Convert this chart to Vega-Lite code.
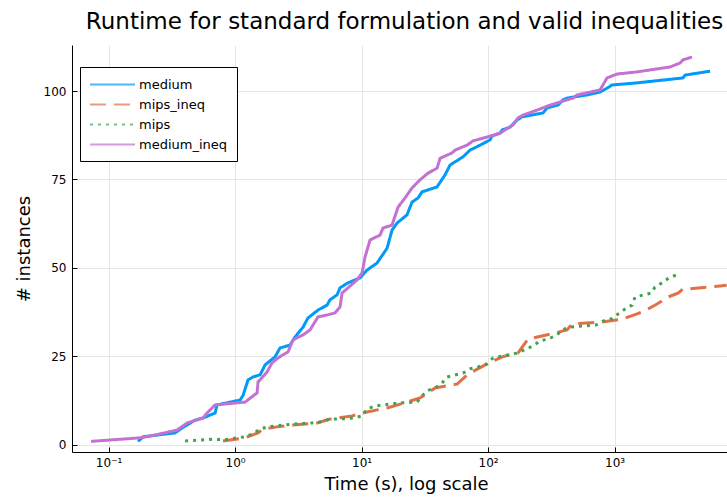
{
  "$schema": "https://vega.github.io/schema/vega-lite/v6.json",
  "width": 655,
  "height": 407,
  "autosize": "none",
  "padding": {"left": 72, "top": 45, "right": 0, "bottom": 47},
  "background": "white",
  "title": {"text": "Runtime for standard formulation and valid inequalities", "fontSize": 23, "fontWeight": "normal", "anchor": "middle", "offset": 11, "dx": 5, "color": "black"},
  "datasets": {
    "runs": [
      {"s": "medium", "t": 0.171, "n": 1},
      {"s": "medium", "t": 0.188, "n": 2.3},
      {"s": "medium", "t": 0.336, "n": 3.4},
      {"s": "medium", "t": 0.381, "n": 4.8},
      {"s": "medium", "t": 0.483, "n": 7},
      {"s": "medium", "t": 0.558, "n": 7.6},
      {"s": "medium", "t": 0.695, "n": 9},
      {"s": "medium", "t": 0.721, "n": 11.3},
      {"s": "medium", "t": 1.096, "n": 12.7},
      {"s": "medium", "t": 1.157, "n": 14},
      {"s": "medium", "t": 1.267, "n": 18.4},
      {"s": "medium", "t": 1.387, "n": 19.2},
      {"s": "medium", "t": 1.577, "n": 19.8},
      {"s": "medium", "t": 1.727, "n": 22.6},
      {"s": "medium", "t": 2.07, "n": 24.9},
      {"s": "medium", "t": 2.268, "n": 27.4},
      {"s": "medium", "t": 2.721, "n": 28.2},
      {"s": "medium", "t": 2.98, "n": 30.5},
      {"s": "medium", "t": 3.451, "n": 33.3},
      {"s": "medium", "t": 3.776, "n": 35.9},
      {"s": "medium", "t": 4.529, "n": 38.1},
      {"s": "medium", "t": 5.337, "n": 39.5},
      {"s": "medium", "t": 5.636, "n": 41},
      {"s": "medium", "t": 6.404, "n": 42.4},
      {"s": "medium", "t": 6.761, "n": 44.4},
      {"s": "medium", "t": 7.822, "n": 45.8},
      {"s": "medium", "t": 9.728, "n": 47.2},
      {"s": "medium", "t": 11.05, "n": 49.4},
      {"s": "medium", "t": 13.27, "n": 51.4},
      {"s": "medium", "t": 15.92, "n": 55.6},
      {"s": "medium", "t": 17.42, "n": 60.7},
      {"s": "medium", "t": 19.09, "n": 62.7},
      {"s": "medium", "t": 22.88, "n": 65},
      {"s": "medium", "t": 25.06, "n": 68.6},
      {"s": "medium", "t": 27.99, "n": 69.8},
      {"s": "medium", "t": 30.06, "n": 71.5},
      {"s": "medium", "t": 39.54, "n": 72.9},
      {"s": "medium", "t": 45.71, "n": 76.3},
      {"s": "medium", "t": 50.12, "n": 79.1},
      {"s": "medium", "t": 63.44, "n": 81.4},
      {"s": "medium", "t": 72.06, "n": 83.3},
      {"s": "medium", "t": 86.5, "n": 84.7},
      {"s": "medium", "t": 103.7, "n": 86.2},
      {"s": "medium", "t": 107.6, "n": 87.3},
      {"s": "medium", "t": 124.5, "n": 88.1},
      {"s": "medium", "t": 129.2, "n": 89},
      {"s": "medium", "t": 149.3, "n": 89.8},
      {"s": "medium", "t": 169.4, "n": 91.8},
      {"s": "medium", "t": 185.6, "n": 92.7},
      {"s": "medium", "t": 272.2, "n": 93.8},
      {"s": "medium", "t": 292.6, "n": 95.2},
      {"s": "medium", "t": 357.3, "n": 96},
      {"s": "medium", "t": 391.7, "n": 97.5},
      {"s": "medium", "t": 421.3, "n": 98},
      {"s": "medium", "t": 606.7, "n": 98.9},
      {"s": "medium", "t": 767.9, "n": 99.7},
      {"s": "medium", "t": 872.9, "n": 100.8},
      {"s": "medium", "t": 955, "n": 101.7},
      {"s": "medium", "t": 1507, "n": 102.3},
      {"s": "medium", "t": 3481, "n": 103.7},
      {"s": "medium", "t": 3609, "n": 104.5},
      {"s": "medium", "t": 5690, "n": 105.6},

      {"s": "mips_ineq", "t": 0.803, "n": 1.1},
      {"s": "mips_ineq", "t": 1.199, "n": 2},
      {"s": "mips_ineq", "t": 1.52, "n": 3.4},
      {"s": "mips_ineq", "t": 1.665, "n": 4.5},
      {"s": "mips_ineq", "t": 2.147, "n": 5.1},
      {"s": "mips_ineq", "t": 2.873, "n": 5.6},
      {"s": "mips_ineq", "t": 4.446, "n": 6.2},
      {"s": "mips_ineq", "t": 5.636, "n": 7.3},
      {"s": "mips_ineq", "t": 8.414, "n": 8.2},
      {"s": "mips_ineq", "t": 11.05, "n": 9.3},
      {"s": "mips_ineq", "t": 16.18, "n": 10.5},
      {"s": "mips_ineq", "t": 22.88, "n": 12.1},
      {"s": "mips_ineq", "t": 28.99, "n": 13.3},
      {"s": "mips_ineq", "t": 30.62, "n": 13.8},
      {"s": "mips_ineq", "t": 38.11, "n": 16.1},
      {"s": "mips_ineq", "t": 56.89, "n": 17.2},
      {"s": "mips_ineq", "t": 69.45, "n": 20},
      {"s": "mips_ineq", "t": 98.23, "n": 22.9},
      {"s": "mips_ineq", "t": 129.2, "n": 24.9},
      {"s": "mips_ineq", "t": 172.6, "n": 26},
      {"s": "mips_ineq", "t": 207.1, "n": 29.9},
      {"s": "mips_ineq", "t": 320.5, "n": 31.4},
      {"s": "mips_ineq", "t": 421.3, "n": 32.5},
      {"s": "mips_ineq", "t": 461.4, "n": 34.2},
      {"s": "mips_ineq", "t": 796.7, "n": 34.7},
      {"s": "mips_ineq", "t": 1167, "n": 35.6},
      {"s": "mips_ineq", "t": 1507, "n": 37},
      {"s": "mips_ineq", "t": 1839, "n": 38.4},
      {"s": "mips_ineq", "t": 2168, "n": 39.8},
      {"s": "mips_ineq", "t": 2648, "n": 41.8},
      {"s": "mips_ineq", "t": 3177, "n": 42.9},
      {"s": "mips_ineq", "t": 3481, "n": 44.1},
      {"s": "mips_ineq", "t": 3811, "n": 44.1},
      {"s": "mips_ineq", "t": 6825, "n": 44.9},
      {"s": "mips_ineq", "t": 7700, "n": 45.1},

      {"s": "mips", "t": 0.403, "n": 1.1},
      {"s": "mips", "t": 0.658, "n": 1.6},
      {"s": "mips", "t": 0.834, "n": 1.5},
      {"s": "mips", "t": 1.199, "n": 2.3},
      {"s": "mips", "t": 1.387, "n": 3.1},
      {"s": "mips", "t": 1.577, "n": 4.5},
      {"s": "mips", "t": 1.824, "n": 5.1},
      {"s": "mips", "t": 2.147, "n": 5.4},
      {"s": "mips", "t": 2.873, "n": 5.9},
      {"s": "mips", "t": 4.061, "n": 6.2},
      {"s": "mips", "t": 4.698, "n": 6.5},
      {"s": "mips", "t": 5.636, "n": 7.3},
      {"s": "mips", "t": 7.406, "n": 7.4},
      {"s": "mips", "t": 8.573, "n": 7.6},
      {"s": "mips", "t": 10.09, "n": 8.2},
      {"s": "mips", "t": 11.05, "n": 10.2},
      {"s": "mips", "t": 12.79, "n": 11},
      {"s": "mips", "t": 17.42, "n": 11.6},
      {"s": "mips", "t": 20.16, "n": 11.9},
      {"s": "mips", "t": 27.47, "n": 12.1},
      {"s": "mips", "t": 30.06, "n": 13.8},
      {"s": "mips", "t": 32.96, "n": 15.3},
      {"s": "mips", "t": 38.11, "n": 16.1},
      {"s": "mips", "t": 43.27, "n": 17.5},
      {"s": "mips", "t": 47.42, "n": 19.2},
      {"s": "mips", "t": 63.44, "n": 20.3},
      {"s": "mips", "t": 72.06, "n": 21.5},
      {"s": "mips", "t": 83.37, "n": 22},
      {"s": "mips", "t": 98.23, "n": 22.9},
      {"s": "mips", "t": 109.6, "n": 24.6},
      {"s": "mips", "t": 129.2, "n": 25.1},
      {"s": "mips", "t": 172.6, "n": 26},
      {"s": "mips", "t": 199.5, "n": 27.1},
      {"s": "mips", "t": 226.9, "n": 28},
      {"s": "mips", "t": 257.6, "n": 29.4},
      {"s": "mips", "t": 298.1, "n": 29.9},
      {"s": "mips", "t": 350.8, "n": 31.1},
      {"s": "mips", "t": 384.4, "n": 32.5},
      {"s": "mips", "t": 444.9, "n": 33.3},
      {"s": "mips", "t": 714.5, "n": 33.9},
      {"s": "mips", "t": 811, "n": 35},
      {"s": "mips", "t": 938, "n": 35.6},
      {"s": "mips", "t": 1066, "n": 37},
      {"s": "mips", "t": 1211, "n": 38.4},
      {"s": "mips", "t": 1375, "n": 39.5},
      {"s": "mips", "t": 1453, "n": 41.8},
      {"s": "mips", "t": 1944, "n": 42.9},
      {"s": "mips", "t": 2089, "n": 44.6},
      {"s": "mips", "t": 2373, "n": 45.8},
      {"s": "mips", "t": 2698, "n": 47.2},
      {"s": "mips", "t": 3063, "n": 48},

      {"s": "medium_ineq", "t": 0.0728, "n": 1},
      {"s": "medium_ineq", "t": 0.177, "n": 2},
      {"s": "medium_ineq", "t": 0.233, "n": 2.8},
      {"s": "medium_ineq", "t": 0.348, "n": 4.2},
      {"s": "medium_ineq", "t": 0.418, "n": 6.2},
      {"s": "medium_ineq", "t": 0.558, "n": 7.6},
      {"s": "medium_ineq", "t": 0.601, "n": 9},
      {"s": "medium_ineq", "t": 0.695, "n": 11.3},
      {"s": "medium_ineq", "t": 1.199, "n": 12.1},
      {"s": "medium_ineq", "t": 1.493, "n": 14.7},
      {"s": "medium_ineq", "t": 1.52, "n": 17.8},
      {"s": "medium_ineq", "t": 1.791, "n": 20.6},
      {"s": "medium_ineq", "t": 1.96, "n": 23.2},
      {"s": "medium_ineq", "t": 2.188, "n": 24.6},
      {"s": "medium_ineq", "t": 2.624, "n": 26.3},
      {"s": "medium_ineq", "t": 2.873, "n": 29.7},
      {"s": "medium_ineq", "t": 3.451, "n": 31.1},
      {"s": "medium_ineq", "t": 3.917, "n": 32.5},
      {"s": "medium_ineq", "t": 4.529, "n": 36.2},
      {"s": "medium_ineq", "t": 5.337, "n": 36.7},
      {"s": "medium_ineq", "t": 6.175, "n": 37.3},
      {"s": "medium_ineq", "t": 6.761, "n": 39},
      {"s": "medium_ineq", "t": 7.012, "n": 42.9},
      {"s": "medium_ineq", "t": 7.822, "n": 44.4},
      {"s": "medium_ineq", "t": 9.208, "n": 46.6},
      {"s": "medium_ineq", "t": 10.09, "n": 48.6},
      {"s": "medium_ineq", "t": 10.66, "n": 53.1},
      {"s": "medium_ineq", "t": 11.67, "n": 57.9},
      {"s": "medium_ineq", "t": 14.0, "n": 59.3},
      {"s": "medium_ineq", "t": 14.79, "n": 61.3},
      {"s": "medium_ineq", "t": 17.42, "n": 62.1},
      {"s": "medium_ineq", "t": 19.44, "n": 67.2},
      {"s": "medium_ineq", "t": 22.08, "n": 69.8},
      {"s": "medium_ineq", "t": 25.06, "n": 72.6},
      {"s": "medium_ineq", "t": 28.99, "n": 74.9},
      {"s": "medium_ineq", "t": 33.57, "n": 76.8},
      {"s": "medium_ineq", "t": 39.54, "n": 78.2},
      {"s": "medium_ineq", "t": 41.78, "n": 81},
      {"s": "medium_ineq", "t": 51.88, "n": 82.5},
      {"s": "medium_ineq", "t": 54.83, "n": 83.3},
      {"s": "medium_ineq", "t": 68.19, "n": 84.7},
      {"s": "medium_ineq", "t": 76.07, "n": 85.9},
      {"s": "medium_ineq", "t": 98.23, "n": 87},
      {"s": "medium_ineq", "t": 124.5, "n": 88.1},
      {"s": "medium_ineq", "t": 136.3, "n": 89},
      {"s": "medium_ineq", "t": 157.8, "n": 90.4},
      {"s": "medium_ineq", "t": 172.6, "n": 92.4},
      {"s": "medium_ineq", "t": 189.1, "n": 93.2},
      {"s": "medium_ineq", "t": 243.8, "n": 94.6},
      {"s": "medium_ineq", "t": 309, "n": 96},
      {"s": "medium_ineq", "t": 421.3, "n": 97.5},
      {"s": "medium_ineq", "t": 469.9, "n": 98},
      {"s": "medium_ineq", "t": 505.4, "n": 98.9},
      {"s": "medium_ineq", "t": 767.9, "n": 100.3},
      {"s": "medium_ineq", "t": 872.9, "n": 103.7},
      {"s": "medium_ineq", "t": 1047, "n": 104.8},
      {"s": "medium_ineq", "t": 1507, "n": 105.4},
      {"s": "medium_ineq", "t": 2747, "n": 106.8},
      {"s": "medium_ineq", "t": 3296, "n": 107.9},
      {"s": "medium_ineq", "t": 3481, "n": 108.8},
      {"s": "medium_ineq", "t": 4100, "n": 109.6}
    ]
  },
  "data": {"name": "runs"},
  "encoding": {
    "x": {
      "field": "t", "type": "quantitative",
      "scale": {"type": "log", "domain": [0.0514, 7745], "nice": false},
      "axis": {
        "title": "Time (s), log scale",
        "values": [0.1, 1, 10, 100, 1000],
        "labelExpr": "datum.value < 0.5 ? '10⁻¹' : datum.value < 5 ? '10⁰' : datum.value < 50 ? '10¹' : datum.value < 500 ? '10²' : '10³'",
        "labelPadding": 10,
        "titlePadding": 7,
        "titleX": 334
      }
    },
    "y": {
      "field": "n", "type": "quantitative",
      "scale": {"domain": [-2, 113], "nice": false, "zero": false},
      "axis": {
        "title": "# instances",
        "values": [0, 25, 50, 75, 100],
        "labelPadding": 11,
        "titlePadding": 10
      }
    },
    "color": {
      "field": "s", "type": "nominal",
      "scale": {"domain": ["medium", "mips_ineq", "mips", "medium_ineq"], "range": ["#009AFA", "#E36F47", "#3EA44E", "#C371D2"]},
      "legend": {"title": null}
    },
    "strokeDash": {
      "field": "s", "type": "nominal",
      "scale": {"domain": ["medium", "mips_ineq", "mips", "medium_ineq"], "range": [[1, 0], [16, 8], [3, 5], [1, 0]]},
      "legend": {"title": null}
    }
  },
  "layer": [
    {"transform": [{"filter": "datum.s == 'medium'"}], "mark": {"type": "line", "strokeWidth": 3, "clip": true}},
    {"transform": [{"filter": "datum.s == 'mips_ineq'"}], "mark": {"type": "line", "strokeWidth": 3, "clip": true}},
    {"transform": [{"filter": "datum.s == 'mips'"}], "mark": {"type": "line", "strokeWidth": 3, "clip": true}},
    {"transform": [{"filter": "datum.s == 'medium_ineq'"}], "mark": {"type": "line", "strokeWidth": 3, "clip": true}}
  ],
  "config": {
    "font": "DejaVu Sans",
    "view": {"stroke": null},
    "axis": {
      "grid": true,
      "gridColor": "#e6e6e6",
      "gridWidth": 1,
      "domainColor": "black",
      "domainWidth": 1,
      "tickColor": "black",
      "tickSize": -5,
      "labelFontSize": 12,
      "labelColor": "black",
      "titleFontSize": 18,
      "titleFontWeight": "normal",
      "titleColor": "black"
    },
    "legend": {
      "orient": "none",
      "legendX": 8,
      "legendY": 22,
      "strokeColor": "black",
      "fillColor": "white",
      "padding": 9,
      "cornerRadius": 0,
      "labelFontSize": 13,
      "labelColor": "black",
      "symbolType": "M-1,0H5",
      "symbolSize": 225,
      "symbolStrokeWidth": 2,
      "symbolOpacity": 0.7,
      "rowPadding": 4,
      "labelOffset": 33
    }
  }
}
